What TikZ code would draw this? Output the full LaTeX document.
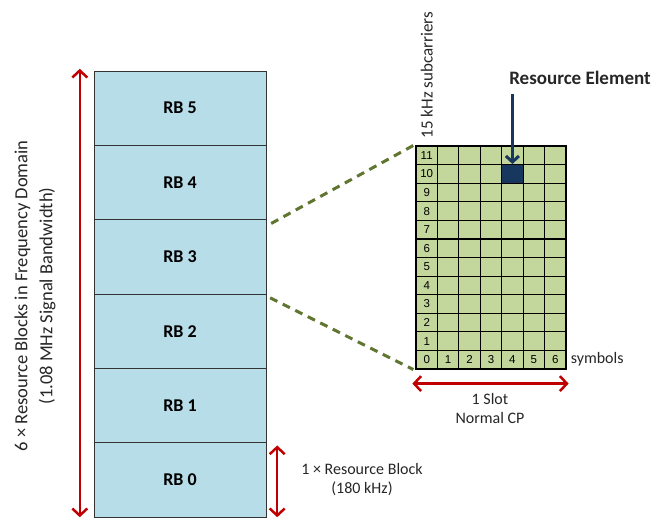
\documentclass[tikz,border=0pt]{standalone}
\usepackage{fontspec}
\setmainfont{Carlito}
\newfontfamily\gridfont{Liberation Sans}
\usetikzlibrary{positioning,arrows.meta}
\definecolor{rbblue}{HTML}{B7DDE8}
\definecolor{regreen}{HTML}{C3D69B}
\definecolor{zoomgreen}{HTML}{5F7530}
\definecolor{spanred}{HTML}{C00000}
\definecolor{renavy}{HTML}{17375E}
\begin{document}
\begin{tikzpicture}[x=1pt,y=-1pt
		,rbbox/.style={draw=black!80, fill=rbblue, minimum width=172pt, minimum height=74.33pt, inner sep=0pt, font=\fontsize{18}{20}\selectfont\bfseries}
		,recell/.style={draw=black, line width=1.2pt, fill=regreen, minimum width=21.43pt, minimum height=18.58pt, inner sep=0pt, font=\gridfont\fontsize{11.5}{11.5}\selectfont}
		,span/.style={spanred, line width=2.5pt, {Straight Barb[length=7pt,width=15pt]}-{Straight Barb[length=7pt,width=15pt]}}
		,zoomline/.style={zoomgreen, line width=3pt, dash pattern=on 8pt off 6pt}
		,note/.style={font=\fontsize{16}{19}\selectfont, align=center, text=black!85}
	]
		\useasboundingbox (0,0) rectangle (657,520);

		% resource blocks
		\foreach \i in {0,...,5}
			\node[rbbox] (rb\i) at (180, {517-74.33*\i-37.17}) {RB \i};

		% one resource block, subcarriers x symbols
		\foreach \c in {0,...,6}
			\foreach \r in {0,...,11}
				\node[recell] (c\c-\r) at ({416+21.43*\c+10.71}, {369-18.58*\r-9.29})
					{\ifnum\c=0 \r\else\ifnum\r=0 \c\fi\fi};
		\node[recell, fill=renavy] (re) at (c4-10) {};

		\draw[zoomline] ([xshift=5pt,yshift=-4pt]rb3.north east) -- ([xshift=-2pt]c0-11.north west);
		\draw[zoomline] ([xshift=4pt,yshift=-4pt]rb2.north east) -- ([xshift=-2pt]c0-0.south west);

		% spans
		\draw[span] ([xshift=-14pt,yshift=2pt]rb5.north west) -- ([xshift=-14pt]rb0.south west);
		\node[note, rotate=90, font=\fontsize{18.5}{25}\selectfont] (bw) at (35,296)
			{6 × Resource Blocks in Frequency Domain\\(1.08 MHz Signal Bandwidth)};

		\draw[span] ([xshift=11pt,yshift=-3pt]rb0.north east) -- ([xshift=11pt]rb0.south east);
		\node[note] (onerb) at (362,480) {1 × Resource Block\\(180 kHz)};

		\draw[span] ([xshift=-3pt,yshift=-14pt]c0-0.south west) -- ([xshift=2pt,yshift=-14pt]c6-0.south east);
		\node[note] (slot) at (490,408) {1 Slot\\Normal CP};

		\node[note, anchor=west, inner sep=0pt] (sym) at ([xshift=4pt]c6-0.east) {symbols};
		\node[note, rotate=90, anchor=west, inner sep=0pt, font=\fontsize{17}{19}\selectfont] (subc) at ([yshift=7pt]c0-11.north) {15 kHz subcarriers};

		\node[note, font=\fontsize{19}{22}\selectfont\bfseries] (relabel) at (580,78) {Resource Element};
		\draw[renavy, line width=3pt, -{Straight Barb[length=6pt,width=13pt]}]
			(re.north |- relabel.south) ++(0,6) -- (re.north);
	\end{tikzpicture}
\end{document}
